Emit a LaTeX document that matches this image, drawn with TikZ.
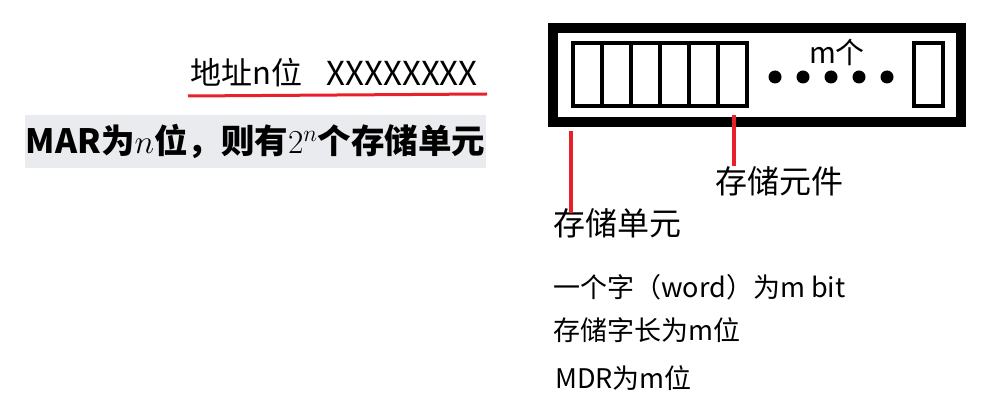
\RequirePackage{fix-cm}
\documentclass[tikz,border=0pt]{standalone}
\usepackage{fontspec}
\setmainfont{Noto Sans CJK SC}
\usepackage{xcolor}
\usepackage{tikz}
\usetikzlibrary{positioning}
\definecolor{mark}{HTML}{E8202A}
\definecolor{shade}{HTML}{EAEBEE}

\begin{document}
\begin{tikzpicture}[
    x=1pt, y=-1pt,
    frm/.style={draw, line width=10pt, minimum width=408pt, minimum height=94pt, inner sep=0pt},
    cell/.style={draw, line width=4.5pt, minimum width=29pt, minimum height=63pt, inner sep=0pt},
    lbl/.style={inner sep=0pt, anchor=west},
    big/.style={lbl, font=\fontsize{32}{36}\selectfont},
    small/.style={lbl, font=\fontsize{27}{32}\selectfont},
    redline/.style={draw=mark, line width=4pt}
]
\useasboundingbox (0,0) rectangle (995,411);

% address line and MAR remark
\node[lbl, font=\fontsize{31}{36}\selectfont] (addr) at (190,73) {地址n位};
\node[lbl, font=\fontsize{33}{36}\selectfont, right=24pt of addr] (xs) {XXXXXXXX};
\draw[draw=mark, line width=3pt] (188,96) -- (487,94);
\node[fill=shade, minimum width=461pt, minimum height=53pt, inner sep=0pt,
      font=\fontsize{33.5}{38}\selectfont\bfseries] (mar) at (255.5,141.5)
      {MAR为$n$位，则有$2^n$个存储单元};

% memory word
\node[frm] (frame) at (757,75) {};
\foreach \i in {1,...,6}
  \node[cell] (c\i) at ({573+29*(\i-0.5)},74.5) {};
\node[cell] (clast) at (928.5,74.5) {};
\foreach \k in {0,...,4}
  \fill ({775+28*\k},77) circle (6.5pt);
\node[inner sep=0pt, font=\fontsize{29}{34}\selectfont] (mcount) at (837,52) {m个};

% labels
\node[big] (elem) at (715,181) {存储元件};
\node[big] (unit) at (553,223) {存储单元};
\draw[redline] ([xshift=1.5pt,yshift=-7pt]c6.south) -- ([xshift=1.5pt]c6.south |- elem.north);
\draw[redline] ([yshift=-4pt]c1.west |- frame.south) -- ([yshift=-5pt]c1.west |- unit.north);

\node[small] (word) at (553,287) {一个字（word）为m bit};
\node[small] (wlen) at (553,330) {存储字长为m位};
\node[small] (mdr)  at (555,378) {MDR为m位};
\end{tikzpicture}
\end{document}
